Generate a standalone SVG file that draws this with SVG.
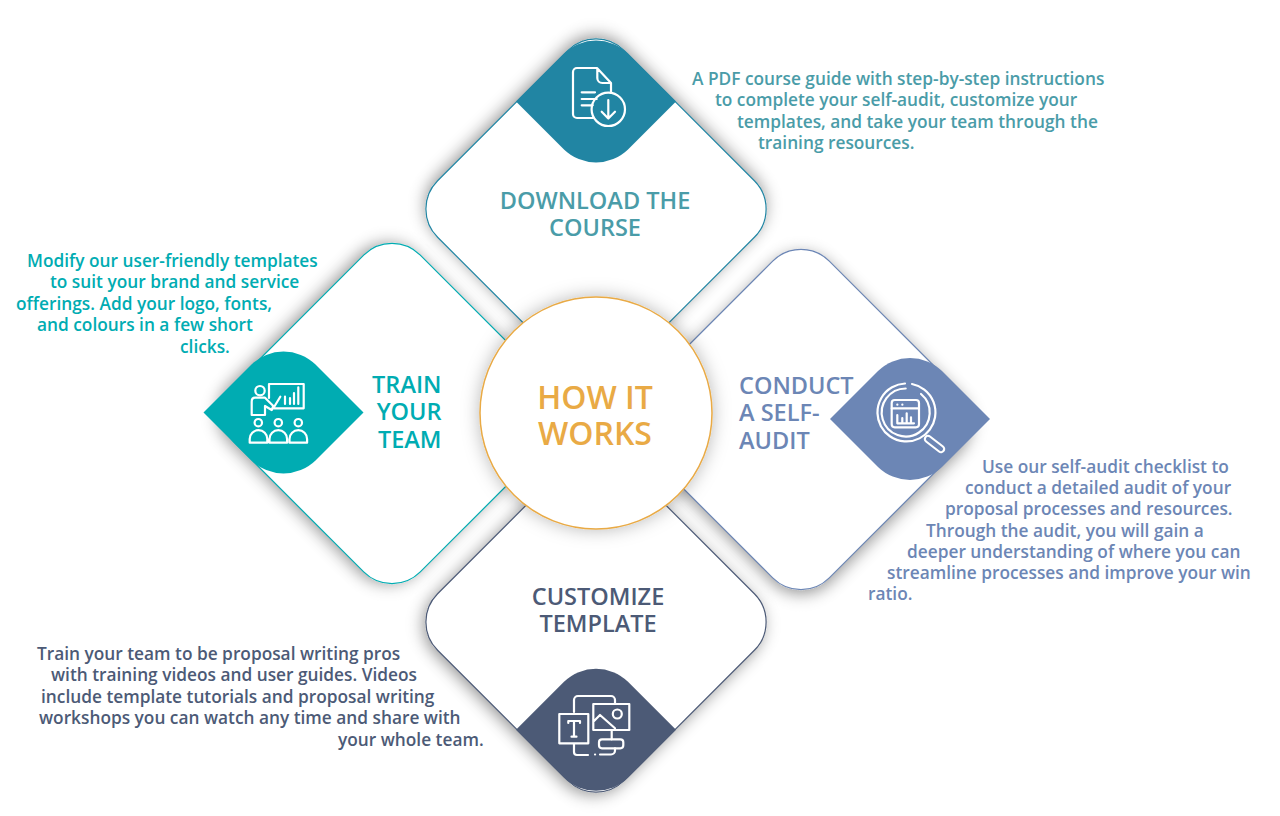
<svg xmlns="http://www.w3.org/2000/svg" width="1280" height="816" viewBox="0 0 1280 816">
<style>
text{font-family:"Open Sans","Noto Sans","Liberation Sans",sans-serif}
.b{font-size:17.3px;font-weight:600}
.h{font-size:23.5px;font-weight:600}
.c{font-size:32px;font-weight:600;fill:#e9aa45;text-anchor:middle}
.i{fill:none;stroke:#fff;stroke-width:2.2;stroke-linecap:round;stroke-linejoin:round}
.d{stroke-width:1.2;fill:#fff}
.teal{fill:#4a9ca8}.aqua{fill:#00acb2}.blue{fill:#6c86b5}.navy{fill:#4c5a76}
.s{fill:#fff}
</style>
<defs>
<rect id="dm" x="-132" y="-132" width="264" height="264" rx="40" ry="40"/>
<path id="leafH" d="M-80,0 L-32,-48 A46 46 0 0 1 32,-48 L80,0 L32,48 A46 46 0 0 1 -32,48 Z"/>
<path id="leafV" d="M-80,0 L-32,-48 A46 46 0 0 1 32,-48 L80,0 L32,48 A46 46 0 0 1 -32,48 Z" transform="rotate(90)"/>
<filter id="sT" x="-30%" y="-30%" width="160%" height="160%"><feDropShadow dx="-3" dy="-2" stdDeviation="8" flood-color="#000" flood-opacity=".42"/></filter>
<filter id="sL" x="-30%" y="-30%" width="160%" height="160%"><feDropShadow dx="-3" dy="3" stdDeviation="8" flood-color="#000" flood-opacity=".42"/></filter>
<filter id="sR" x="-30%" y="-30%" width="160%" height="160%"><feDropShadow dx="3" dy="3" stdDeviation="8" flood-color="#000" flood-opacity=".42"/></filter>
<filter id="sB" x="-30%" y="-30%" width="160%" height="160%"><feDropShadow dx="0" dy="4" stdDeviation="8" flood-color="#000" flood-opacity=".42"/></filter>
<filter id="sC" x="-30%" y="-30%" width="160%" height="160%"><feDropShadow dx="0" dy="0" stdDeviation="9" flood-color="#000" flood-opacity=".28"/></filter>
</defs>
<rect width="1280" height="816" fill="#fff"/>
<g id="shadows">
<use href="#dm" class="s" transform="translate(596 209) rotate(45)" filter="url(#sT)"/>
<use href="#dm" class="s" transform="translate(392 413.5) rotate(45)" filter="url(#sL)"/>
<use href="#dm" class="s" transform="translate(801 419.5) rotate(45)" filter="url(#sR)"/>
<use href="#dm" class="s" transform="translate(596 622) rotate(45)" filter="url(#sB)"/>
</g>
<g id="connectors"/>
<g id="node-download">
<use href="#dm" class="d" stroke="#2185a3" transform="translate(596 209) rotate(45)"/>
<use href="#leafH" fill="#2185a3" transform="translate(596 101.5)"/>
<path class="i" d="M593,118 H577 a4,4 0 0 1 -4,-4 V72 a4,4 0 0 1 4,-4 H597 L611,83 V93 M597.300,69 V78 a5,5 0 0 0 5,5 H610 M581.700,92.300 H595 M581.700,99 H596.700 M581.700,105.300 H592.700 M608.300,100 V118.500 M601.700,111.700 L608.300,118.500 L615,111.700"/>
<circle class="i" cx="608.300" cy="109.300" r="16.700"/>
<text class="h teal" text-anchor="middle" x="595" y="209">DOWNLOAD THE</text>
<text class="h teal" text-anchor="middle" x="595" y="236">COURSE</text>
<text class="b teal" x="692" y="84.500">A PDF course guide with step-by-step instructions</text>
<text class="b teal" x="715" y="106">to complete your self-audit, customize your</text>
<text class="b teal" x="737" y="127.500">templates, and take your team through the</text>
<text class="b teal" x="758" y="149">training resources.</text>
</g>
<g id="node-train">
<use href="#dm" class="d" stroke="#00acb2" transform="translate(392 413.5) rotate(45)"/>
<use href="#leafV" fill="#00acb2" transform="translate(283.500 412.500) rotate(90)"/>
<path class="i" d="M269,398 V384 H303.700 V408.300 H273.300 M273.300,408.300 L280.300,396.700 M285,396.700 V404 M290,398 V404 M294,393 V404 M298.300,387.300 V404 M251.700,415 V401.700 Q251.700,397.700 255,397.700 H265 L273.300,406 L271.700,410 L265,406 V415 Z"/>
<circle class="i" cx="260" cy="390.700" r="4.700"/>
<circle class="i" cx="258.300" cy="422.700" r="3.700"/>
<circle class="i" cx="278.300" cy="422.700" r="3.700"/>
<circle class="i" cx="298.300" cy="422.700" r="3.700"/>
<path class="i" d="M249.700,442.700 V439 a8.800,8.800 0 0 1 17.600,0 V442.700 Z M269.500,442.700 V439 a8.800,8.800 0 0 1 17.600,0 V442.700 Z M289.500,442.700 V439 a8.800,8.800 0 0 1 17.600,0 V442.700 Z"/>
<text class="h aqua" text-anchor="end" x="441.500" y="393">TRAIN</text>
<text class="h aqua" text-anchor="end" x="441.500" y="420">YOUR</text>
<text class="h aqua" text-anchor="end" x="441.500" y="448">TEAM</text>
<text class="b aqua" x="27" y="266.500">Modify our user-friendly templates</text>
<text class="b aqua" x="50" y="288">to suit your brand and service</text>
<text class="b aqua" x="16" y="309.500">offerings. Add your logo, fonts,</text>
<text class="b aqua" x="37" y="331">and colours in a few short</text>
<text class="b aqua" x="180" y="352.500">clicks.</text>
</g>
<g id="node-audit">
<use href="#dm" class="d" stroke="#6c86b5" transform="translate(801 419.5) rotate(45)"/>
<use href="#leafV" fill="#6c86b5" transform="translate(910 419) rotate(90)"/>
<path class="i" d="M912,384 A29,29 0 1 1 905,383.500 M905.700,388.500 A24,24 0 1 0 921,394"/>
<circle class="i" cx="905.700" cy="412.700" r="0" />
<path d="M928,439 L941,449" fill="none" stroke="#fff" stroke-width="8.500" stroke-linecap="round"/>
<path d="M928,439 L941,449" fill="none" stroke="#6c86b5" stroke-width="4.200" stroke-linecap="round"/>
<rect class="i" x="891.700" y="400" width="27.300" height="27.300" rx="3"/>
<path class="i" d="M891.700,408.300 H919 M897.300,404.700 h.1 M902.300,404.700 h.1 M897.300,415 V423.300 H914 M902.300,418 V423 M906.700,413.300 V423 M911,417.300 V423"/>
<text class="h blue" x="739" y="394">CONDUCT</text>
<text class="h blue" x="739" y="421">A SELF-</text>
<text class="h blue" x="739" y="449">AUDIT</text>
<text class="b blue" x="982" y="472.500">Use our self-audit checklist to</text>
<text class="b blue" x="965" y="494">conduct a detailed audit of your</text>
<text class="b blue" x="945" y="515">proposal processes and resources.</text>
<text class="b blue" x="926" y="536.500">Through the audit, you will gain a</text>
<text class="b blue" x="907" y="558">deeper understanding of where you can</text>
<text class="b blue" x="887" y="579">streamline processes and improve your win</text>
<text class="b blue" x="868" y="600">ratio.</text>
</g>
<g id="node-template">
<use href="#dm" class="d" stroke="#4c5a76" transform="translate(596 622) rotate(45)"/>
<use href="#leafH" fill="#4c5a76" transform="translate(596 729.800)"/>
<path class="i" d="M574,712 V700 a4,4 0 0 1 4,-4 H611 a4,4 0 0 1 4,4 V703 M559.300,714 H588.300 V743.300 H559.300 Z M568.300,723 V721 H580 V723 M574,721 V736.700 M571.500,736.700 H576.500 M593.300,704 H629.300 V730 H593.300 Z M593.300,721.700 L600,715 L615,728.300 M611.700,730 V739.300 M574,743.300 V752 a3,3 0 0 0 3,3 H588 M595,754.500 h.1 M600,754.500 H611 a4,4 0 0 0 4,-4 V748.300"/>
<circle class="i" cx="617.300" cy="714" r="4.500"/>
<rect class="i" x="599" y="739.300" width="24.300" height="9" rx="3"/>
<text class="h navy" text-anchor="middle" x="598" y="605">CUSTOMIZE</text>
<text class="h navy" text-anchor="middle" x="598" y="632">TEMPLATE</text>
<text class="b navy" x="37" y="659.500">Train your team to be proposal writing pros</text>
<text class="b navy" x="51" y="681">with training videos and user guides. Videos</text>
<text class="b navy" x="41" y="702.500">include template tutorials and proposal writing</text>
<text class="b navy" x="39" y="724">workshops you can watch any time and share with</text>
<text class="b navy" x="338" y="745.500">your whole team.</text>
</g>
<g id="node-center">
<circle cx="596" cy="413" r="116" fill="#fff" stroke="#e9aa45" stroke-width="1.500" filter="url(#sC)"/>
<text class="c" x="595" y="409">HOW IT</text>
<text class="c" x="595" y="445">WORKS</text>
</g>
</svg>
